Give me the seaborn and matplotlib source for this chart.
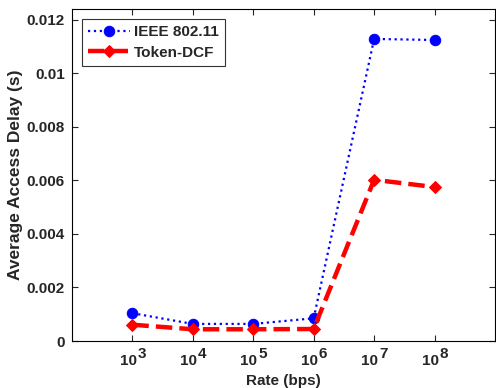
import matplotlib
matplotlib.use("Agg")
import matplotlib.pyplot as plt
import seaborn as sns
import pandas as pd
import numpy as np

rates = [1e3, 1e4, 1e5, 1e6, 1e7, 1e8]
exponents = ["3", "4", "5", "6", "7", "8"]
ieee = [0.00104, 0.00064, 0.00064, 0.00085, 0.01128, 0.01124]
token = [0.00061, 0.00044, 0.00044, 0.00045, 0.00602, 0.00575]
series_names = ["IEEE 802.11", "Token-DCF"]
ytick_vals = [0, 0.002, 0.004, 0.006, 0.008, 0.01, 0.012]
ytick_labels = ["0", "0.002", "0.004", "0.006", "0.008", "0.01", "0.012"]

df = pd.DataFrame({
    "rate": rates * 2,
    "delay": ieee + token,
    "series": [series_names[0]] * len(rates) + [series_names[1]] * len(rates),
})

sns.set_style("ticks")
plt.rcParams['font.family'] = ['Liberation Sans', 'DejaVu Sans']
plt.rcParams['font.weight'] = 'bold'

FS = 11
fig = plt.figure(figsize=(4.96, 3.88), dpi=100)
ax = fig.add_axes([0.145, 0.121, 0.853, 0.856])

sns.lineplot(data=df[df.series == series_names[0]], x="rate", y="delay", ax=ax,
             color="#0000ff", linestyle=":", linewidth=1.6, marker="o",
             markersize=7.5, markeredgecolor="#0000ff", label=series_names[0])
sns.lineplot(data=df[df.series == series_names[1]], x="rate", y="delay", ax=ax,
             color="#ff0000", linestyle="--", linewidth=3.2, marker="D",
             markersize=6, markeredgecolor="#ff0000", label=series_names[1],
             dashes=(3, 1.5))

ax.set_xscale("log")
ax.set_xlim(1e2, 1e9)
ax.set_ylim(0, 0.0124)
ax.set_xticks(rates)
ax.set_xticklabels([""] * len(rates))
ax.xaxis.set_minor_locator(matplotlib.ticker.NullLocator())
for r, e in zip(rates, exponents):
    ax.annotate("10", xy=(r, 0), xycoords=("data", "axes fraction"),
                xytext=(-3.1, -9.4), textcoords="offset points",
                ha="center", va="top", fontsize=FS, fontweight="bold")
    ax.annotate(e, xy=(r, 0), xycoords=("data", "axes fraction"),
                xytext=(3.6, -4.6), textcoords="offset points",
                ha="left", va="top", fontsize=FS, fontweight="bold")
ax.set_yticks(ytick_vals)
ax.set_yticklabels(ytick_labels)
ax.tick_params(direction="in", top=True, right=True, labelsize=FS, length=4, width=0.8)
ax.tick_params(axis="y", pad=5)
ax.set_xlabel("Rate (bps)", fontsize=FS, fontweight="bold", labelpad=20)
ax.set_ylabel("Average Access Delay (s)", fontsize=12.5, fontweight="bold", labelpad=3)
for s in ax.spines.values():
    s.set_linewidth(0.8)
    s.set_color("black")

leg = ax.legend(loc="upper left", bbox_to_anchor=(0.024, 0.970), fontsize=FS,
                frameon=True, fancybox=False, edgecolor="black", handlelength=2.7,
                borderpad=0.42, labelspacing=0.42, handletextpad=0.3, borderaxespad=0)
leg.get_frame().set_linewidth(0.8)

fig.savefig("out.png", dpi=100)
